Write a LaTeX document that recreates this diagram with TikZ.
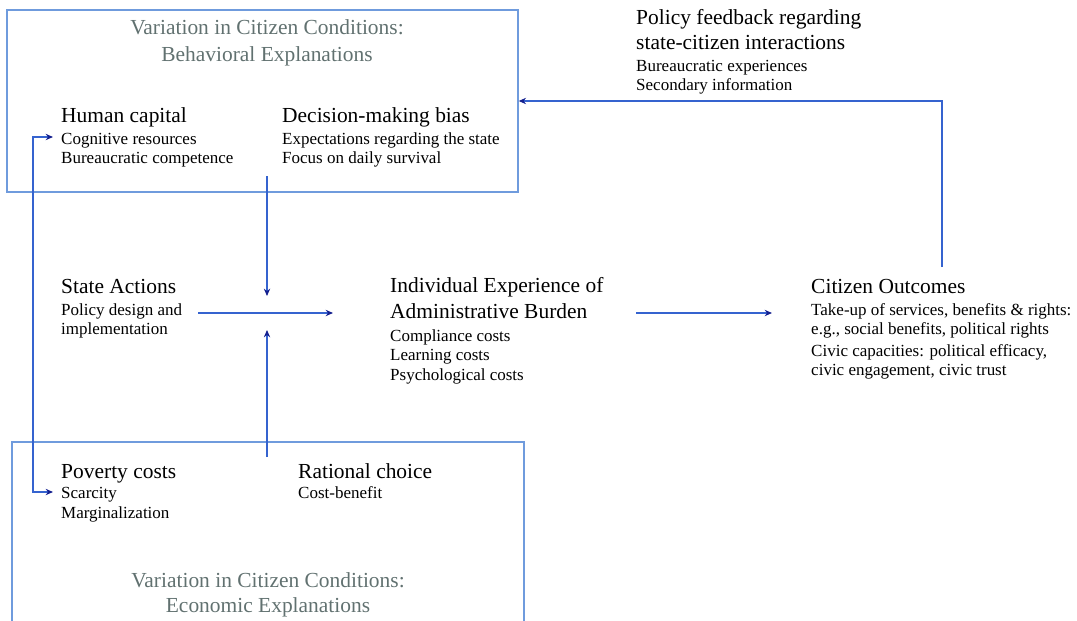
\documentclass[tikz,border=0pt]{standalone}
\usepackage{fontspec}
\setmainfont{Liberation Serif}
\usetikzlibrary{arrows.meta}
\definecolor{frame}{HTML}{6F9BDD}
\definecolor{link}{HTML}{3563CF}
\definecolor{tipblue}{HTML}{14208F}
\definecolor{titlegray}{HTML}{617170}

\begin{document}
\begin{tikzpicture}[
  x=0.03cm, y=-0.03cm,
  title/.style={font=\fontsize{18.3}{22}\selectfont, text=titlegray, inner sep=0, anchor=base},
  head/.style={font=\fontsize{18.3}{22}\selectfont, inner sep=0, anchor=base west},
  item/.style={font=\fontsize{14.5}{17}\selectfont, inner sep=0, anchor=base west},
  panel/.style={draw=frame, line width=1.1pt},
  link/.style={draw=link, line width=1.1pt},
  >={Stealth[length=2.2mm, width=1.9mm, color=tipblue]}
]
\useasboundingbox (0,0) rectangle (1077,620);

% panels
\node[panel, minimum width=15.33cm, minimum height=5.46cm, inner sep=0] (behav) at (262.5,101) {};
\draw[panel] (12,622) -- (12,442) -- (524,442) -- (524,622);

% behavioral explanations
\node[title] (behtitle1) at (267,35) {Variation in Citizen Conditions:};
\node[title] (behtitle2) at (267,62) {Behavioral Explanations};
\node[head] (hc)  at (61,123) {Human capital};
\node[item] (hc1) at (61,144) {Cognitive resources};
\node[item] (hc2) at (61,163) {Bureaucratic competence};
\node[head] (dm)  at (282,123) {Decision-making bias};
\node[item] (dm1) at (282,144) {Expectations regarding the state};
\node[item] (dm2) at (282,163) {Focus on daily survival};

% feedback
\node[head] (pf)  at (636,25) {Policy feedback regarding};
\node[head] (pf0) at (636,50) {state-citizen interactions};
\node[item] (pf1) at (636,72) {Bureaucratic experiences};
\node[item] (pf2) at (636,91) {Secondary information};

% middle row
\node[head] (sa)  at (61,293) {State Actions};
\node[item] (sa1) at (61,315) {Policy design and};
\node[item] (sa2) at (61,334) {implementation};
\node[head] (ie)  at (390,292) {Individual Experience of};
\node[head] (ie0) at (390,318) {Administrative Burden};
\node[item] (ie1) at (390,341) {Compliance costs};
\node[item] (ie2) at (390,360) {Learning costs};
\node[item] (ie3) at (390,380) {Psychological costs};
\node[head] (co)  at (811,293) {Citizen Outcomes};
\node[item] (co1) at (811,315) {Take-up of services, benefits \& rights:};
\node[item] (co2) at (811,334) {e.g., social benefits, political rights};
\node[item] (co3) at (811,356) {Civic capacities: political efficacy,};
\node[item] (co4) at (811,375) {civic engagement, civic trust};

% economic explanations
\node[head] (pc)  at (61,478) {Poverty costs};
\node[item] (pc1) at (61,498) {Scarcity};
\node[item] (pc2) at (61,518) {Marginalization};
\node[head] (rc)  at (298,478) {Rational choice};
\node[item] (rc1) at (298,498) {Cost-benefit};
\node[title] (ecotitle1) at (268,587) {Variation in Citizen Conditions:};
\node[title] (ecotitle2) at (268,612) {Economic Explanations};

% connector ends
\coordinate (sa-out)   at (198,313);
\coordinate (ie-in)    at (333,313);
\coordinate (ie-out)   at (636,313);
\coordinate (co-in)    at (772,313);
\coordinate (dm-out)   at (267,176);
\coordinate (join-top) at (267,296);
\coordinate (rc-out)   at (267,457);
\coordinate (join-bot) at (267,330);
\coordinate (hc-in)    at (53,137);
\coordinate (pc-in)    at (53,492);
\coordinate (co-out)   at (942,267);

\draw[link, ->] (sa-out) -- (ie-in);
\draw[link, ->] (ie-out) -- (co-in);
\draw[link, ->] (dm-out) -- (join-top);
\draw[link, ->] (rc-out) -- (join-bot);
\draw[link, <->] (hc-in) -- ++(-20,0) |- (pc-in);
\draw[link, ->] (co-out) |- (behav.east);
\end{tikzpicture}
\end{document}
